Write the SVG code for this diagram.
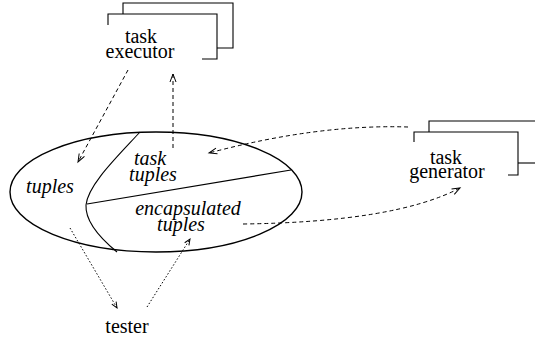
<svg xmlns="http://www.w3.org/2000/svg" width="535" height="340" viewBox="0 0 535 340">
  <defs>
    <style>
      .frame { fill: none; stroke: #000; stroke-width: 1.1; }
      .shape { fill: none; stroke: #000; stroke-width: 1.4; }
      .dash { fill: none; stroke: #000; stroke-width: 1; stroke-dasharray: 4 3; }
      .dot { fill: none; stroke: #000; stroke-width: 1; stroke-dasharray: 1.5 2; }
    </style>
    <marker id="arrow" markerUnits="userSpaceOnUse" markerWidth="12" markerHeight="10" refX="0" refY="0" viewBox="-10 -5 12 10" orient="auto">
      <path d="M-8,-3 L0,0 L-8,3" fill="none" stroke="#000" stroke-width="1"/>
    </marker>
    <marker id="arrow-small" markerUnits="userSpaceOnUse" markerWidth="10" markerHeight="8" refX="0" refY="0" viewBox="-8 -4 10 8" orient="auto">
      <path d="M-6,-2.5 L0,0 L-6,2.5" fill="none" stroke="#000" stroke-width="1"/>
    </marker>
  </defs>

  <rect width="535" height="340" fill="#fff"/>

  <!-- all labels share one serif face, centred on their x -->
  <g font-family="Liberation Serif, serif" font-size="20" fill="#000" text-anchor="middle">

    <!-- task executor: two stacked frames -->
    <g id="executor">
      <path class="frame" d="M123,14 V3 H233 V48 H217"/>
      <path class="frame" d="M108,25 V14 H217 V59 H202"/>
      <text x="141" y="43">task</text>
      <text x="140" y="58">executor</text>
    </g>

    <!-- tuple space -->
    <g id="space">
      <ellipse class="shape" cx="156" cy="192" rx="146" ry="60"/>
      <path class="frame" d="M140,132 C116,158 88,185 86,205 C85,222 100,238 117,252"/>
      <path class="frame" d="M87,204 L291,170"/>
      <text font-style="italic" x="50" y="193">tuples</text>
    </g>

    <g id="task-tuples" font-style="italic">
      <text x="150" y="165">task</text>
      <text x="153" y="181">tuples</text>
    </g>

    <g id="encapsulated-tuples" font-style="italic">
      <text x="188" y="215">encapsulated</text>
      <text x="181" y="231">tuples</text>
    </g>

    <!-- task generator: two stacked frames, back one runs off the right edge -->
    <g id="generator">
      <path class="frame" d="M429,132 V121 H545"/>
      <path class="frame" d="M518,163 H545"/>
      <path class="frame" d="M414,142 V132 H518 V175 H508"/>
      <text x="446" y="164">task</text>
      <text x="447" y="178">generator</text>
    </g>

    <g id="tester">
      <text x="127" y="333">tester</text>
    </g>
  </g>

  <!-- connectors -->
  <g id="connectors">
    <path class="dash" d="M128,70 L78,162" marker-end="url(#arrow)"/>
    <path class="dash" d="M173,148 L173,74" marker-end="url(#arrow)"/>
    <path class="dash" d="M408,127 Q318,124 209,153" marker-end="url(#arrow)"/>
    <path class="dash" d="M243,224 Q395,222 460,188" marker-end="url(#arrow)"/>
    <path class="dot" d="M70,228 L117,308" marker-end="url(#arrow-small)"/>
    <path class="dot" d="M147,307 L190,239" marker-end="url(#arrow-small)"/>
  </g>
</svg>
